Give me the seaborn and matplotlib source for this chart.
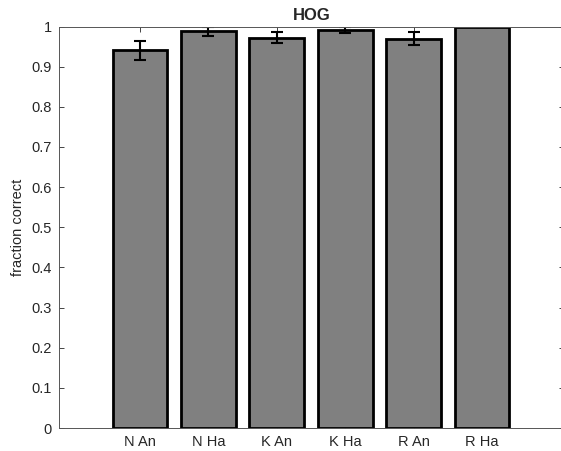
import numpy as np
import pandas as pd
import matplotlib
matplotlib.use('Agg')
import matplotlib.pyplot as plt
import seaborn as sns

conditions = ['N An', 'N Ha', 'K An', 'K Ha', 'R An', 'R Ha']
frac_correct = [0.941, 0.988, 0.972, 0.992, 0.970, 1.0]
frac_err = [0.024, 0.012, 0.014, 0.007, 0.016, 0.0]

df = pd.DataFrame({'cond': conditions, 'frac': frac_correct})

sns.set_style('white')
plt.rcParams['font.family'] = ['Liberation Sans', 'DejaVu Sans']

fig = plt.figure(figsize=(5.61, 4.51), dpi=100)
# right edge of the axes sits just past the image border, as in the cropped original
ax = fig.add_axes([59 / 561, 23 / 451, (564 - 59) / 561, 401.5 / 451])

sns.barplot(data=df, x='cond', y='frac', color='#808080', saturation=1,
            width=0.8, edgecolor='black', linewidth=2, ax=ax)
ax.errorbar(np.arange(len(conditions)), frac_correct, yerr=frac_err,
            fmt='none', ecolor='black', elinewidth=1.5, capsize=4.5, capthick=1.5)

ax.set_xlim(-1.184, 6.2)
ax.set_ylim(0, 1)
ax.set_yticks(np.arange(0, 1.01, 0.1))
ax.set_yticklabels(['0', '0.1', '0.2', '0.3', '0.4', '0.5', '0.6', '0.7', '0.8', '0.9', '1'])
ax.set_xlabel('')
ax.set_ylabel('fraction correct', fontsize=10.5, color='#262626', labelpad=5)
ax.set_title('HOG', fontsize=12, fontweight='bold', pad=4.5)

ax.tick_params(axis='both', direction='in', length=3.5, width=0.6, colors='#262626',
               labelsize=10.5, top=True, right=True, bottom=True, left=True, pad=5)
for s in ax.spines.values():
    s.set_color('#555555')
    s.set_linewidth(0.7)

fig.savefig('out.png', dpi=100)
